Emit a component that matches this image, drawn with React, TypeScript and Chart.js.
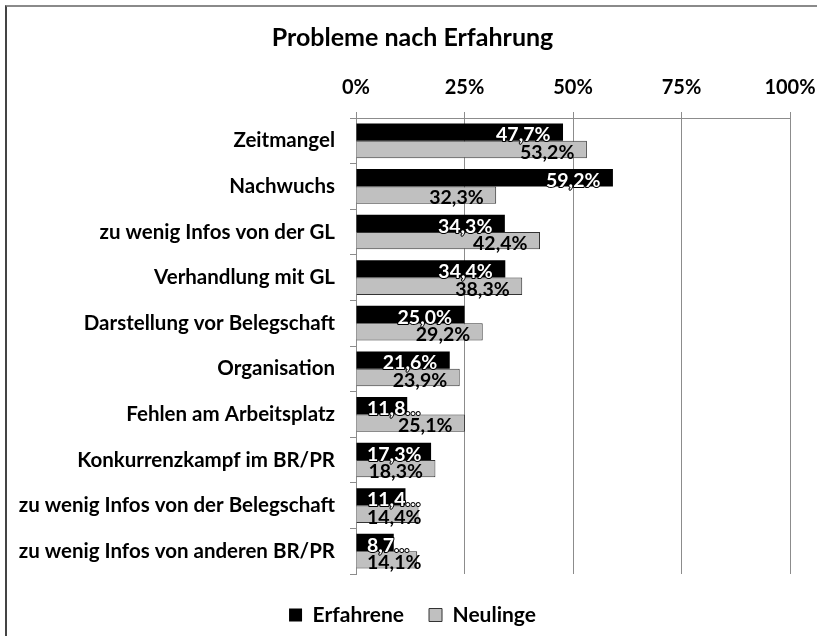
import React, { useEffect, useRef } from "react";
import { Chart, registerables } from "chart.js";

Chart.register(...registerables);

const categories = [
  "Zeitmangel",
  "Nachwuchs",
  "zu wenig Infos von der GL",
  "Verhandlung mit GL",
  "Darstellung vor Belegschaft",
  "Organisation",
  "Fehlen am Arbeitsplatz",
  "Konkurrenzkampf im BR/PR",
  "zu wenig Infos von der Belegschaft",
  "zu wenig Infos von anderen BR/PR",
];
const erfahrene = [47.7, 59.2, 34.3, 34.4, 25.0, 21.6, 11.8, 17.3, 11.4, 8.7];
const neulinge = [53.2, 32.3, 42.4, 38.3, 29.2, 23.9, 25.1, 18.3, 14.4, 14.1];
const seriesNames = ["Erfahrene", "Neulinge"];
const xTickValues = [0, 25, 50, 75, 100];
const titleText = "Probleme nach Erfahrung";

const FONT = "Lato, 'Open Sans', sans-serif";

const fmt = (v: number) => v.toFixed(1).replace(".", ",") + "%";

const labelPlugin = {
  id: "barLabels",
  afterDatasetsDraw(chart: any) {
    const ctx = chart.ctx;
    ctx.save();
    ctx.font = `bold 19.5px ${FONT}`;
    ctx.textBaseline = "middle";
    ctx.textAlign = "left";
    chart.data.datasets.forEach((ds: any, di: number) => {
      const meta = chart.getDatasetMeta(di);
      meta.data.forEach((bar: any, i: number) => {
        const v = ds.data[i] as number;
        const start = bar.base;
        const end = bar.x;
        const barW = end - start;
        let text = fmt(v);
        let w = ctx.measureText(text).width;
        if (w > barW) {
          let t = text.slice(0, -1);
          while (t.length > 1 && ctx.measureText(t + "…").width > barW + 6) t = t.slice(0, -1);
          text = t + "…";
          w = ctx.measureText(text).width;
        }
        let left = end - 12.5 - w;
        if (left < start + 10.5) left = start + 10.5;
        const y = bar.y + 3;
        if (di === 0) {
          ctx.lineWidth = 2;
          ctx.strokeStyle = "#000";
          ctx.lineJoin = "round";
          ctx.strokeText(text, left, y);
          ctx.fillStyle = "#fff";
        } else {
          ctx.fillStyle = "#000";
        }
        ctx.fillText(text, left, y);
      });
    });
    ctx.restore();
  },
};

export default function App() {
  const ref = useRef<HTMLCanvasElement | null>(null);
  useEffect(() => {
    if (!ref.current) return;
    const gridColor = "#8c8c8c";
    const chart = new Chart(ref.current, {
      type: "bar",
      data: {
        labels: categories,
        datasets: [
          {
            label: seriesNames[0],
            data: erfahrene,
            backgroundColor: "#000000",
            borderColor: "#000000",
            borderWidth: 0,
            categoryPercentage: 0.76,
            barPercentage: 1,
          },
          {
            label: seriesNames[1],
            data: neulinge,
            backgroundColor: "#c0c0c0",
            borderColor: "#333333",
            borderWidth: 1,
            categoryPercentage: 0.76,
            barPercentage: 1,
          },
        ],
      },
      options: {
        indexAxis: "y",
        animation: false,
        responsive: false,
        devicePixelRatio: 1,
        layout: { padding: { left: 8, right: 0, top: 0, bottom: 0.5 } },
        plugins: {
          title: {
            display: true,
            text: titleText,
            color: "#000",
            font: { family: FONT, size: 25, weight: "bold" },
            padding: { top: 22.5, bottom: 0 },
          },
          legend: {
            position: "bottom",
            labels: {
              boxWidth: 13,
              boxHeight: 13,
              padding: 25,
              color: "#000",
              font: { family: FONT, size: 21, weight: "bold" },
            },
          },
          tooltip: { enabled: false },
        },
        scales: {
          x: {
            position: "top",
            min: 0,
            max: 100,
            afterBuildTicks: (s: any) => {
              s.ticks = xTickValues.map((v) => ({ value: v }));
            },
            ticks: {
              callback: (v: any) => v + "%",
              color: "#000",
              font: { family: FONT, size: 20, weight: "bold" },
              padding: 12.5,
            },
            grid: { color: gridColor, tickLength: 6, drawTicks: true },
            border: { color: gridColor },
            afterFit: (s: any) => {
              s.height = 65.5;
              s.paddingLeft = 0;
              s.paddingRight = 0;
            },
          },
          x2: {
            type: "linear",
            position: "bottom",
            display: true,
            grid: { display: false },
            ticks: { display: false },
            border: { display: false },
            afterFit: (s: any) => {
              s.height = 5.5;
              s.paddingLeft = 0;
              s.paddingRight = 0;
            },
          },
          y: {
            ticks: {
              color: "#000",
              font: { family: FONT, size: 20.5, weight: "bold" },
              padding: 15,
            },
            grid: { drawOnChartArea: false, tickLength: 6, color: gridColor },
            border: { color: gridColor },
            afterFit: (s: any) => {
              s.width = 348;
              s.paddingTop = 0;
              s.paddingBottom = 0;
            },
          },
          y2: {
            type: "linear",
            position: "right",
            display: true,
            grid: { display: false },
            ticks: { display: false },
            border: { display: false },
            afterFit: (s: any) => {
              s.width = 27;
              s.paddingTop = 0;
              s.paddingBottom = 0;
            },
          },
        },
      },
      plugins: [labelPlugin],
    } as any);
    return () => chart.destroy();
  }, []);

  return (
    <div style={{ position: "fixed", left: 0, top: 0, width: 817, height: 636, background: "#fff" }}>
      <canvas ref={ref} width={817} height={636} style={{ display: "block" }} />
      <div
        style={{
          position: "absolute",
          left: 5,
          top: 5,
          right: 0,
          bottom: 0,
          borderTop: "2px solid #8a8a8a",
          borderLeft: "2px solid #444444",
          pointerEvents: "none",
        }}
      />
    </div>
  );
}
